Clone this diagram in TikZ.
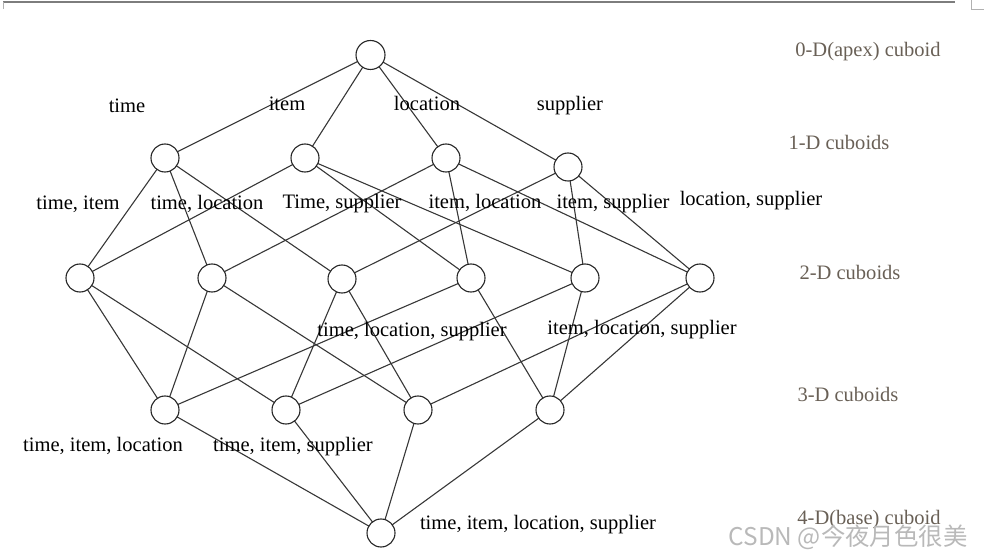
\documentclass[tikz,border=0pt]{standalone}
\usepackage{fontspec}
\setmainfont{Liberation Serif}
\newfontfamily\cjkwm{Noto Sans CJK SC}
\definecolor{edgegray}{RGB}{55,55,55}
\definecolor{levelgray}{RGB}{105,96,86}
\definecolor{wmgray}{RGB}{185,185,185}
\definecolor{rulegray}{RGB}{125,125,125}
\begin{document}
\begin{tikzpicture}[x=1bp,y=-1bp,
  cub/.style={circle,draw=black!85,line width=1.1bp,minimum size=28bp,inner sep=0pt,fill=white},
  edge/.style={draw=edgegray,line width=1.1bp},
  lab/.style={font=\fontsize{20.6pt}{24pt}\selectfont,anchor=base,inner sep=0pt,text=black},
  lvl/.style={font=\fontsize{20.6pt}{24pt}\selectfont,anchor=base,inner sep=0pt,text=levelgray},
  wm/.style={font=\cjkwm\fontsize{24.5pt}{28pt}\selectfont,anchor=base,inner sep=0pt,text=wmgray}]
\useasboundingbox (0,0) rectangle (984,556);
% top rule and corner marks
\draw[rulegray,line width=2bp] (3,2) -- (955,2);
\draw[rulegray!60,line width=0.8bp] (3,2) -- (3,9);
\draw[rulegray!60,line width=0.8bp] (971,0) -- (971,9) -- (984,9);
% positions
\coordinate (apex) at (370.5,55);
\coordinate (t) at (165,158);
\coordinate (i) at (305,158);
\coordinate (l) at (446,158);
\coordinate (s) at (568,167);
\coordinate (ti) at (80,278);
\coordinate (tl) at (212,278);
\coordinate (ts) at (342,279);
\coordinate (il) at (471,278);
\coordinate (is) at (585,278);
\coordinate (ls) at (700,278);
\coordinate (til) at (165,410);
\coordinate (tis) at (286,410);
\coordinate (tls) at (418,410);
\coordinate (ils) at (550,410);
\coordinate (base) at (381,533);
% edges (under nodes)
\foreach \a/\b in {apex/t,apex/i,apex/l,apex/s,
  t/ti,t/tl,t/ts, i/ti,i/il,i/is, l/tl,l/il,l/ls, s/ts,s/is,s/ls,
  ti/til,ti/tis, tl/til,tl/tls, ts/tis,ts/tls, il/til,il/ils, is/tis,is/ils, ls/tls,ls/ils,
  til/base,tis/base,tls/base,ils/base}
  \draw[edge] (\a) -- (\b);
% nodes
\foreach \n in {t,i,l,s,ti,tl,ts,il,is,ls,til,tis,tls,ils}
  \node[cub] (n\n) at (\n) {};
\node[cub,minimum size=29bp] (napex) at (apex) {};
\node[cub] (nbase) at (base) {};
% 1-D labels
\node[lab] (Lt) at (127,113) {time};
\node[lab] (Li) at (287,111) {item};
\node[lab] (Ll) at (427,111) {location};
\node[lab] (Ls) at (570,111) {supplier};
% 2-D labels
\node[lab] (Lti) at (78,210) {time, item};
\node[lab] (Ltl) at (207,210) {time, location};
\node[lab] (Lts) at (342,209) {Time, supplier};
\node[lab] (Lil) at (485,209) {item, location};
\node[lab] (Lis) at (613,209) {item, supplier};
\node[lab] (Lls) at (751,206) {location, supplier};
% 3-D labels
\node[lab] (Ltls) at (412,337) {time, location, supplier};
\node[lab] (Lils) at (642,335) {item, location, supplier};
\node[lab] (Ltil) at (103,451) {time, item, location};
\node[lab] (Ltis) at (293,451) {time, item, supplier};
% 4-D label
\node[lab] (Lbase) at (538,529) {time, item, location, supplier};
% level labels
\node[lvl] (V0) at (868,57) {0-D(apex) cuboid};
\node[lvl] (V1) at (839,150) {1-D cuboids};
\node[lvl] (V2) at (850,280) {2-D cuboids};
\node[lvl] (V3) at (848,401) {3-D cuboids};
\node[lvl] (V4) at (869,524) {4-D(base) cuboid};
% watermark
\node[wm] (WM) at (848,545) {CSDN @今夜月色很美};
\end{tikzpicture}
\end{document}
